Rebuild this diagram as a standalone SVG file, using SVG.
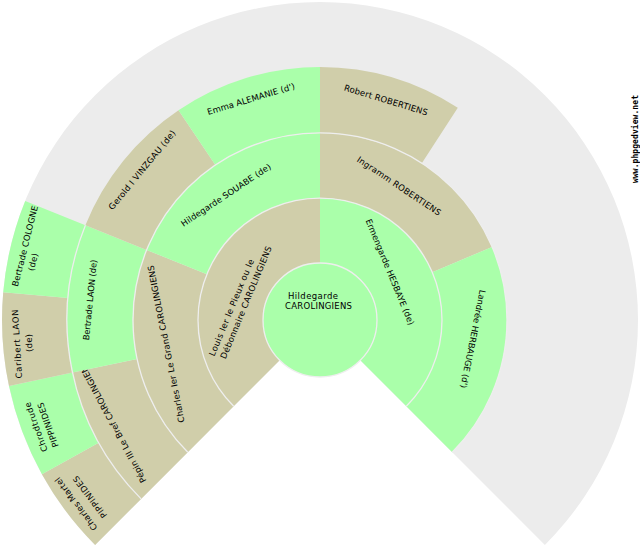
<svg xmlns="http://www.w3.org/2000/svg" width="640" height="550" viewBox="0 0 640 550">
<style>
.g{fill:#aaffaa}.t{fill:#d0ceaa}
.arc{fill:none;stroke:#eeeeee;stroke-width:1.3}
text{font-family:"DejaVu Sans",sans-serif;font-size:8.5px;fill:#000}
.wm{font-family:"DejaVu Sans Mono",monospace;font-size:8px;font-weight:bold}
</style>
<rect width="640" height="550" fill="#ffffff"/>
<path id="fan" fill="#ececec" d="M320 320L95.1 544.9A318 318 0 1 1 544.9 544.9Z"/>
<g id="n-martel"><path class="t" d="M95.1 544.9A318 318 0 0 1 41.9 474.2L98.7 442.7A253 253 0 0 0 141.1 498.9Z"/>
<text transform="translate(76 504) rotate(-127)" x="-32" y="3" textLength="64">Charles Martel</text><text transform="translate(90 497) rotate(-127)" x="-25" y="3" textLength="50">PIPPINIDES</text></g>
<g id="n-chrodtrude"><path class="g" d="M41.9 474.2A318 318 0 0 1 9 386.1L72.5 372.6A253 253 0 0 0 98.7 442.7Z"/>
<text transform="translate(36 427) rotate(-110)" x="-26" y="3" textLength="52">Chrodtrude</text><text transform="translate(48 425) rotate(-110)" x="-23.5" y="3" textLength="47">PIPPINIDES</text></g>
<g id="n-caribert"><path class="t" d="M9 386.1A318 318 0 0 1 3.2 292.3L68 297.9A253 253 0 0 0 72.5 372.6Z"/>
<text transform="translate(17 344) rotate(-93.5)" x="-34.5" y="3" textLength="69">Caribert LAON</text><text transform="translate(29 343) rotate(-93.5)" x="-9" y="3" textLength="18">(de)</text></g>
<g id="n-cologne"><path class="g" d="M3.2 292.3A318 318 0 0 1 25.2 200.9L85.4 225.2A253 253 0 0 0 68 297.9Z"/>
<text transform="translate(25 246) rotate(-76)" x="-41.5" y="3" textLength="83">Bertrade COLOGNE</text><text transform="translate(33 262) rotate(-76)" x="-9" y="3" textLength="18">(de)</text></g>
<g id="n-pepin"><path class="t" d="M141.1 498.9A253 253 0 0 1 72.5 372.6L137.1 358.9A187 187 0 0 0 187.8 452.2Z"/>
<text transform="translate(112 422) rotate(-118)" x="-68" y="3" textLength="136">Pépin III Le Bref CAROLINGIENS</text></g>
<g id="n-laon"><path class="g" d="M72.5 372.6A253 253 0 0 1 85.4 225.2L146.6 249.9A187 187 0 0 0 137.1 358.9Z"/>
<text transform="translate(90 300) rotate(-84.4)" x="-40.5" y="3" textLength="81">Bertrade LAON (de)</text></g>
<g id="n-gerold"><path class="t" d="M85.4 225.2A253 253 0 0 1 178.5 110.3L215.4 165A187 187 0 0 0 146.6 249.9Z"/>
<text transform="translate(142 170) rotate(-50.6)" x="-50" y="3" textLength="100">Gerold I VINZGAU (de)</text></g>
<g id="n-emma"><path class="g" d="M178.5 110.3A253 253 0 0 1 320 67L320 133A187 187 0 0 0 215.4 165Z"/>
<text transform="translate(251 99) rotate(-16.9)" x="-45.5" y="3" textLength="91">Emma ALEMANIE (d')</text></g>
<g id="n-robert"><path class="t" d="M320 67A253 253 0 0 1 457.8 107.8L421.8 163.2A187 187 0 0 0 320 133Z"/>
<text transform="translate(386 100) rotate(16.9)" x="-43.5" y="3" textLength="87">Robert ROBERTIENS</text></g>
<g id="n-charles"><path class="t" d="M187.8 452.2A187 187 0 0 1 146.6 249.9L206.9 274.3A122 122 0 0 0 233.7 406.3Z"/>
<text transform="translate(166 344) rotate(-101.25)" x="-80" y="3" textLength="160">Charles Ier Le Grand CAROLINGIENS</text></g>
<g id="n-souabe"><path class="g" d="M146.6 249.9A187 187 0 0 1 320 133L320 198A122 122 0 0 0 206.9 274.3Z"/>
<text transform="translate(226 195) rotate(-33.75)" x="-53" y="3" textLength="106">Hildegarde SOUABE (de)</text></g>
<g id="n-ingramm"><path class="t" d="M320 133A187 187 0 0 1 492.1 246.9L432.3 272.3A122 122 0 0 0 320 198Z"/>
<text transform="translate(399 186) rotate(33.75)" x="-49.5" y="3" textLength="99">Ingramm ROBERTIENS</text></g>
<g id="n-landree"><path class="g" d="M492.1 246.9A187 187 0 0 1 452.2 452.2L406.3 406.3A122 122 0 0 0 432.3 272.3Z"/>
<text transform="translate(473 339) rotate(101.25)" x="-50" y="3" textLength="100">Landrée HERBAUGE (d')</text></g>
<g id="n-louis"><path class="t" d="M233.7 406.3A122 122 0 0 1 320 198L320 263A57 57 0 0 0 279.7 360.3Z"/>
<text transform="translate(231.5 307.5) rotate(-67.5)" x="-52" y="3" textLength="104">Louis Ier le Pieux ou le</text><text transform="translate(246 302.5) rotate(-67.5)" x="-60.5" y="3" textLength="121">Débonnaire CAROLINGIENS</text></g>
<g id="n-ermengarde"><path class="g" d="M320 198A122 122 0 0 1 406.3 406.3L360.3 360.3A57 57 0 0 0 320 263Z"/>
<text transform="translate(390 272) rotate(67.5)" x="-57" y="3" textLength="114">Ermengarde HESBAYE (de)</text></g>
<g id="connectors">
<path class="arc" d="M233.7 406.3A122 122 0 1 1 406.3 406.3"/>
<path class="arc" d="M187.8 452.2A187 187 0 1 1 452.2 452.2"/>
<path class="arc" d="M141.1 498.9A253 253 0 0 1 85.4 225.2"/>
</g>
<g id="n-root"><circle class="g" cx="320" cy="320" r="57" stroke="#eeeeee" stroke-width="1.3"/>
<text x="288" y="299" textLength="50">Hildegarde</text><text x="285" y="309" textLength="67">CAROLINGIENS</text></g>
<text class="wm" transform="translate(638 183) rotate(-90)" textLength="88">www.phpgedview.net</text>
</svg>
